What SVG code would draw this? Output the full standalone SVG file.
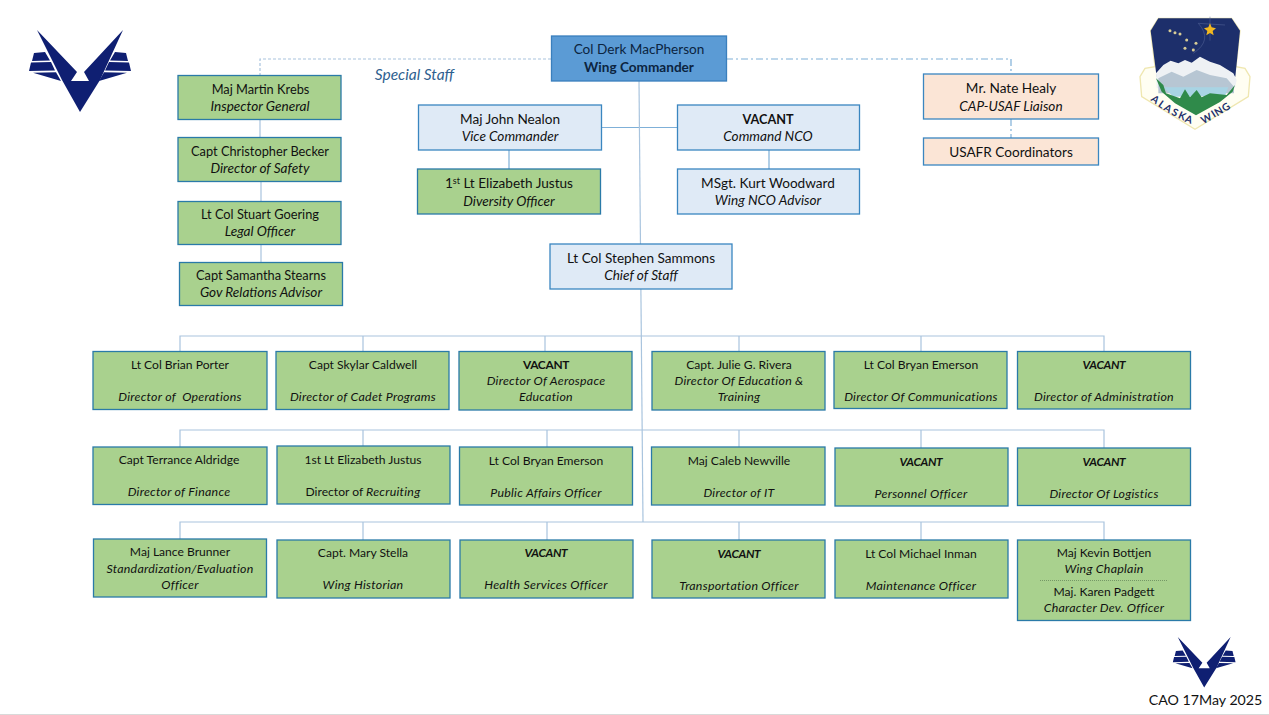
<svg xmlns="http://www.w3.org/2000/svg" width="1269" height="715" viewBox="0 0 1269 715">
<style>
text{font-family:"Lato","Carlito","Open Sans",sans-serif;font-size:13.6px;fill:#111;text-anchor:middle}
.n{font-size:12.8px}
.s{font-size:12.1px}
.s.i{font-size:12.4px;letter-spacing:.25px}
.s.b,.s.b.i{font-size:11.9px;letter-spacing:-.3px}
.i{font-style:italic}
.b{font-weight:700}
.t{font-weight:700;font-size:31px;fill:#1d2f6b}
.g rect{fill:#a9d18e;stroke:#2a7aa8;stroke-width:1.3}
.l rect{fill:#dfeaf6;stroke:#3a86c0;stroke-width:1.3}
.p rect{fill:#fbe5d6;stroke:#3a86c0;stroke-width:1.3}
.c{fill:none;stroke:#a9c4de;stroke-width:1.2}
.m{stroke:#7fb0d8}
</style>
<defs>
<g id="v" fill="#0f1f72">
<path d="M37 30 L77 72 L71 81 L89 81 L84 72 L123 30 L100 80 L80 112 L62 80 Z"/>
<path d="M34 53 L45 52 L50 60.500 L32 61 Z M31 62.500 L51 62 L55 70.500 L29 71 Z M33 72.800 L56 72.300 L61 81 Z M115 52 L126 53 L128 61 L110 60.500 Z M109 62 L129 62.500 L131 71 L105 70.500 Z M104 72.300 L127 72.800 L99 81 Z"/>
</g>
</defs>
<rect width="1269" height="715" fill="#fff"/>
<line x1="0" y1="714.500" x2="1269" y2="714.500" stroke="#d9d9d9"/>
<use href="#v"/>
<use href="#v" transform="translate(1155 618.500) scale(0.615)"/>

<g id="emblem" transform="translate(1130 10) scale(0.3333)">
<path fill="#fffef2" stroke="#efe7b0" stroke-width="4" d="M85 25 H305 L330 62 L318 170 L345 175 L360 200 L355 260 L195 358 L35 260 L30 200 L45 175 L75 170 L62 62 Z"/>
<path fill="#1d2f6b" d="M85 25 H305 L330 62 L316 200 H80 L62 62 Z"/>
<path fill="none" stroke="#5a6a9c" stroke-width="1.500" d="M205 40 L285 45 M240 20 L240 92 M205 40 Q250 90 190 130"/>
<path fill="#eef1f4" d="M78 190 L100 165 L122 152 L145 160 L165 150 L185 158 L210 140 L240 155 L270 165 L310 190 L320 210 L315 235 H80 Z"/>
<path fill="#b7c6d3" d="M85 205 L125 185 L160 200 L200 180 L240 195 L290 205 L312 230 L312 250 H85 Z"/>
<path fill="#a8d4e4" d="M100 232 H295 L285 258 L130 260 Z"/>
<path fill="#2f8a4a" d="M78 205 L100 225 L108 250 L150 265 L165 238 L180 262 L200 240 L215 262 L240 250 L290 255 L315 225 L308 245 L270 276 L198 316 L135 280 L95 245 Z"/>
<path fill="#f2b81f" d="M240 40 L245 52 L258 55 L248 63 L251 76 L240 69 L229 76 L232 63 L222 55 L235 52 Z"/>
<g fill="#d8cc96"><circle cx="120" cy="62" r="4.500"/><circle cx="135" cy="68" r="4.500"/><circle cx="150" cy="72" r="4.500"/><circle cx="170" cy="90" r="4.500"/><circle cx="198" cy="100" r="4.500"/><circle cx="165" cy="115" r="4.500"/><circle cx="190" cy="120" r="4.500"/></g>
<g transform="translate(-3 9)">
<text class="t" x="72" y="268" transform="rotate(38 72 268)">A</text>
<text class="t" x="92" y="283" transform="rotate(36 92 283)">L</text>
<text class="t" x="111" y="295" transform="rotate(32 111 295)">A</text>
<text class="t" x="133" y="308" transform="rotate(28 133 308)">S</text>
<text class="t" x="155" y="319" transform="rotate(24 155 319)">K</text>
<text class="t" x="176" y="329" transform="rotate(20 176 329)">A</text>
</g>
<g transform="translate(2 9)">
<text class="t" x="232" y="326" transform="rotate(-28 232 326)">W</text>
<text class="t" x="254" y="312" transform="rotate(-32 254 312)">I</text>
<text class="t" x="270" y="304" transform="rotate(-32 270 304)">N</text>
<text class="t" x="292" y="291" transform="rotate(-36 292 291)">G</text>
</g>
</g>

<g id="connectors">
<path class="c" d="M551 59 H260 V75" stroke-dasharray="3 2"/>
<path class="c m" d="M726 59 H1011 V74 M1011 119 V138" stroke-dasharray="7 3 2 3"/>
<path class="c" d="M260 119 V137 M261 181 V201 M261 244 V262"/>
<path class="c m" d="M601 127.500 H677"/>
<path class="c m" d="M509 150 V169 M769 150 V169"/>
<path class="c" d="M639 81 L643 522"/>
<path class="c" d="M180 351 V336 H1104 V351 M363 336 V351 M545 336 V351 M739 336 V351 M921 336 V351"/>
<path class="c" d="M180 447 V430 H1104 V448 M363 430 V446 M547 430 V447 M739 430 V447 M921 430 V448"/>
<path class="c" d="M180 539 V522 H1104 V540 M363 522 V540 M547 522 V540 M739 522 V540 M921 522 V540"/>
</g>

<text x="414.500" y="80" class="i" style="font-size:15.500px;fill:#2f5f8f">Special Staff</text>

<g id="n-commander"><rect x="551.500" y="36" width="175" height="45" fill="#5b9bd5" stroke="#3a7fbd" stroke-width="1.300"/><text x="639" y="54" style="fill:#0b2440">Col Derk MacPherson</text><text x="639" y="72" class="b" style="fill:#0b2440">Wing Commander</text></g>

<g id="n-krebs" class="g"><rect x="178" y="75.500" width="163" height="44"/><text x="260.500" y="94" class="n">Maj Martin Krebs</text><text x="260" y="111" class="i">Inspector General</text></g>
<g id="n-becker" class="g"><rect x="178" y="137.500" width="163" height="44"/><text x="260" y="156" class="n">Capt Christopher Becker</text><text x="260" y="173" class="i">Director of Safety</text></g>
<g id="n-goering" class="g"><rect x="178" y="201.500" width="163" height="43"/><text x="260" y="219" class="n">Lt Col Stuart Goering</text><text x="260" y="236" class="i">Legal Officer</text></g>
<g id="n-stearns" class="g"><rect x="179.500" y="262.500" width="163" height="43"/><text x="261" y="280" class="n">Capt Samantha Stearns</text><text x="261" y="297" class="i">Gov Relations Advisor</text></g>

<g id="n-nealon" class="l"><rect x="418.500" y="105" width="183" height="45"/><text x="510" y="124">Maj John Nealon</text><text x="510" y="141" class="i">Vice Commander</text></g>
<g id="n-nco" class="l"><rect x="677.500" y="105" width="182" height="45"/><text x="768" y="124" class="b" style="font-size:12.700px">VACANT</text><text x="768" y="141" class="i">Command NCO</text></g>
<g id="n-justus" class="g"><rect x="417.500" y="169" width="183" height="45"/><text x="509" y="188">1<tspan dy="-4" style="font-size:9px">st</tspan><tspan dy="4"> Lt Elizabeth Justus</tspan></text><text x="509" y="206" class="i">Diversity Officer</text></g>
<g id="n-woodward" class="l"><rect x="677.500" y="169" width="182" height="45"/><text x="768" y="188">MSgt. Kurt Woodward</text><text x="768" y="205" class="i">Wing NCO Advisor</text></g>
<g id="n-sammons" class="l"><rect x="550" y="244" width="182" height="45"/><text x="641" y="263">Lt Col Stephen Sammons</text><text x="641" y="280" class="i">Chief of Staff</text></g>

<g id="n-healy" class="p"><rect x="923.500" y="74" width="175" height="45"/><text x="1011" y="93">Mr. Nate Healy</text><text x="1011" y="111" class="i">CAP-USAF Liaison</text></g>
<g id="n-usafr" class="p"><rect x="923.500" y="138" width="175" height="27"/><text x="1011" y="157">USAFR Coordinators</text></g>

<g id="n-ops" class="g"><rect x="93" y="351.500" width="174" height="58"/><text x="180" y="369" class="s">Lt Col Brian Porter</text><text x="180" y="401" class="s i" xml:space="preserve">Director of  Operations</text></g>
<g id="n-cadet" class="g"><rect x="276" y="351.500" width="173" height="58"/><text x="363" y="369" class="s">Capt Skylar Caldwell</text><text x="363" y="401" class="s i">Director of Cadet Programs</text></g>
<g id="n-ae" class="g"><rect x="459" y="351.500" width="173" height="58.500"/><text x="546" y="369" class="s b">VACANT</text><text x="546" y="385" class="s i">Director Of Aerospace</text><text x="546" y="401" class="s i">Education</text></g>
<g id="n-et" class="g"><rect x="652" y="351.500" width="173" height="58.500"/><text x="739" y="369" class="s">Capt. Julie G. Rivera</text><text x="739" y="385" class="s i">Director Of Education &amp;</text><text x="739" y="401" class="s i">Training</text></g>
<g id="n-comm" class="g"><rect x="834" y="351.500" width="173" height="57"/><text x="921" y="369" class="s">Lt Col Bryan Emerson</text><text x="921" y="401" class="s i">Director Of Communications</text></g>
<g id="n-admin" class="g"><rect x="1017.500" y="351.500" width="173" height="57.500"/><text x="1104" y="369" class="s b i">VACANT</text><text x="1104" y="401" class="s i">Director of Administration</text></g>

<g id="n-fin" class="g"><rect x="93" y="447" width="174" height="57.500"/><text x="179" y="464" class="s">Capt Terrance Aldridge</text><text x="179" y="496" class="s i">Director of Finance</text></g>
<g id="n-rec" class="g"><rect x="277" y="446" width="173" height="58"/><text x="363" y="464" class="s">1st Lt Elizabeth Justus</text><text x="363" y="496" class="s">Director of <tspan class="i" style="font-size:12.400px;letter-spacing:.25px">Recruiting</tspan></text></g>
<g id="n-pao" class="g"><rect x="459.500" y="447" width="173" height="58"/><text x="546" y="465" class="s">Lt Col Bryan Emerson</text><text x="546" y="497" class="s i">Public Affairs Officer</text></g>
<g id="n-it" class="g"><rect x="651.500" y="447" width="173.500" height="58"/><text x="739" y="465" class="s">Maj Caleb Newville</text><text x="739" y="497" class="s i">Director of IT</text></g>
<g id="n-pers" class="g"><rect x="835" y="448" width="173" height="58"/><text x="921" y="466" class="s b i">VACANT</text><text x="921" y="498" class="s i">Personnel Officer</text></g>
<g id="n-log" class="g"><rect x="1017.500" y="448" width="173" height="57.500"/><text x="1104" y="466" class="s b i">VACANT</text><text x="1104" y="498" class="s i">Director Of Logistics</text></g>

<g id="n-stan" class="g"><rect x="93.500" y="539" width="173" height="58"/><text x="180" y="556" class="s">Maj Lance Brunner</text><text x="180" y="573" class="s i">Standardization/Evaluation</text><text x="180" y="589" class="s i">Officer</text></g>
<g id="n-hist" class="g"><rect x="277" y="540" width="173" height="58"/><text x="363" y="557" class="s">Capt. Mary Stella</text><text x="363" y="589" class="s i">Wing Historian</text></g>
<g id="n-hs" class="g"><rect x="460" y="540" width="173" height="58"/><text x="546" y="557" class="s b i">VACANT</text><text x="546" y="589" class="s i">Health Services Officer</text></g>
<g id="n-trans" class="g"><rect x="652" y="540" width="173" height="58"/><text x="739" y="558" class="s b i">VACANT</text><text x="739" y="590" class="s i">Transportation Officer</text></g>
<g id="n-maint" class="g"><rect x="835" y="540" width="173" height="58"/><text x="921" y="558" class="s">Lt Col Michael Inman</text><text x="921" y="590" class="s i">Maintenance Officer</text></g>
<g id="n-chap" class="g"><rect x="1017.500" y="540" width="173" height="80.500"/><text x="1104" y="557" class="s">Maj Kevin Bottjen</text><text x="1104" y="573" class="s i">Wing Chaplain</text><line x1="1040" y1="580.500" x2="1168" y2="580.500" stroke="#5f7f55" stroke-width="0.700" stroke-dasharray="1 1"/><text x="1104" y="596" class="s">Maj. Karen Padgett</text><text x="1104" y="612" class="s i">Character Dev. Officer</text></g>

<text x="1205.500" y="705" style="font-size:14.200px">CAO 17May 2025</text>
</svg>
